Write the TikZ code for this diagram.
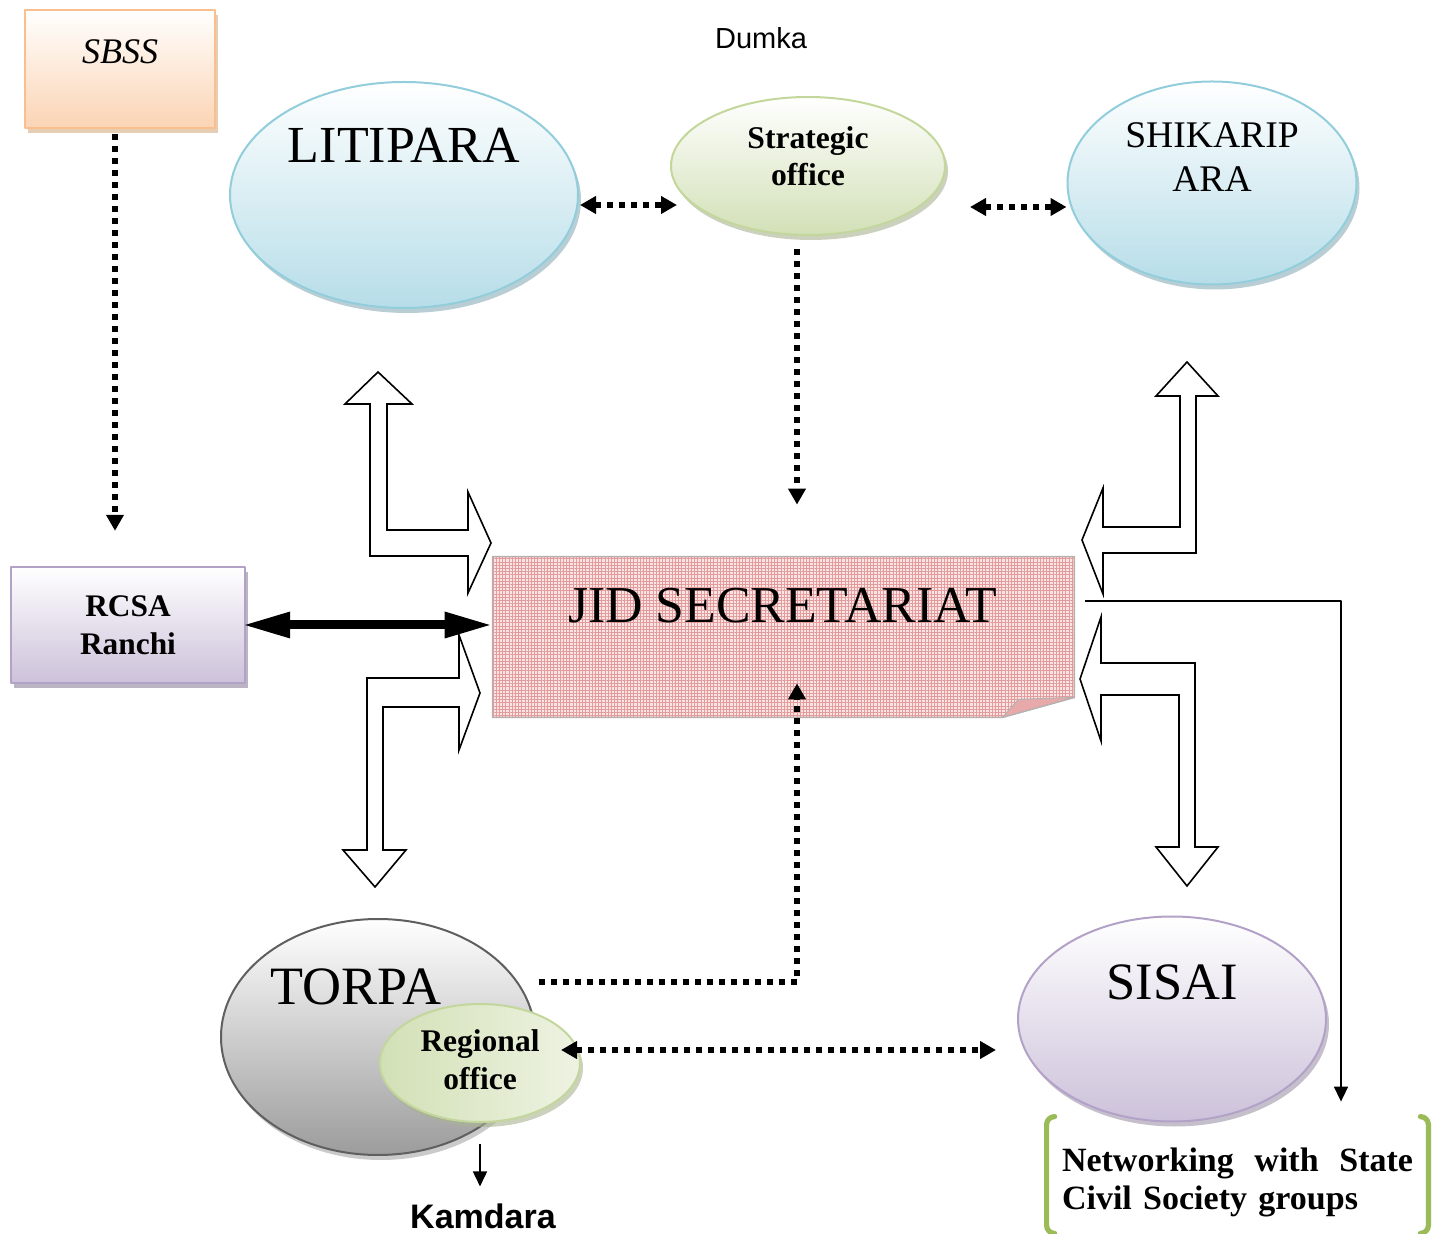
\documentclass[tikz,border=0pt]{standalone}
\usepackage{fontspec}
\setmainfont{Liberation Serif}
\setsansfont{Liberation Sans}
\usetikzlibrary{shapes.geometric,arrows.meta,shadows,patterns.meta,calc}

\definecolor{peach}{HTML}{FBD4B4}
\definecolor{peachline}{HTML}{FABF8F}
\definecolor{skyblue}{HTML}{B6DDE8}
\definecolor{skyline}{HTML}{92CDDC}
\definecolor{sage}{HTML}{D2E0B6}
\definecolor{sagelight}{HTML}{EEF3E2}
\definecolor{sageline}{HTML}{C3D69B}
\definecolor{lilac}{HTML}{CCC1DA}
\definecolor{lilacline}{HTML}{B3A2C7}
\definecolor{slate}{HTML}{9C9C9C}
\definecolor{slateline}{HTML}{5F5F5F}
\definecolor{paper}{HTML}{FBE4E4}
\definecolor{paperline}{HTML}{E39A9A}
\definecolor{leaf}{HTML}{9BBB59}

\tikzset{
  blob/.style={ellipse, line width=1pt, inner sep=0pt, top color=white,
    drop shadow={shadow xshift=1.5pt, shadow yshift=-2.5pt, fill=#1, opacity=.6}},
  card/.style={rectangle, line width=1.2pt, inner sep=0pt, top color=white,
    drop shadow={shadow xshift=1.5pt, shadow yshift=-2.5pt, fill=#1, opacity=.7}},
  dotline/.style={line width=2.8pt, dash pattern=on 3pt off 3pt,
    >={Triangle[length=8pt,width=8.5pt]}},
  fatline/.style={line width=4.5pt, >={Triangle[length=24pt,width=12pt]}},
  thinline/.style={line width=0.8pt, >={Triangle[length=7.5pt,width=7pt]}},
  blockarrow/.style={draw, fill=white, line width=0.8pt, line join=miter},
  jidpaper/.style={draw=gray!60, line width=0.8pt, fill=paper,
    postaction={pattern={Hatch[distance=1.6pt,line width=0.3pt]}, pattern color=paperline}},
  flapfold/.style={fill=paperline!85, draw=gray!60, line width=0.5pt},
  groupbracket/.style={draw=leaf, line width=2.6pt, line cap=round, rounded corners=4pt},
}

\begin{document}
\begin{tikzpicture}[x=0.5pt,y=-0.5pt,>=latex,line join=bevel]
    \useasboundingbox (0,0) rectangle (1435,1234);
    %%
    \node (sbss) [card=brown!55, draw=peachline, bottom color=peach, minimum width=95pt, minimum height=59pt] at (120,69) {};
    \node (litipara) [blob=skyline!60!gray, draw=skyline, bottom color=skyblue, minimum width=174pt, minimum height=113pt] at (404,195) {};
    \node (strategic) [blob=sageline!60!gray, draw=sageline, bottom color=sage, minimum width=137pt, minimum height=69pt] at (808,166) {};
    \node (shikaripara) [blob=skyline!60!gray, draw=skyline, bottom color=skyblue, minimum width=144.5pt, minimum height=101.5pt] at (1212,183) {};
    \node (rcsa) [card=lilacline!60!gray, draw=lilacline, bottom color=lilac, minimum width=117pt, minimum height=58pt] at (128,625) {};
    \node (jid) [minimum width=290.5pt, minimum height=80pt, inner sep=0pt] at (783.5,637) {};
    \node (torpa) [blob=gray!70, draw=slateline, bottom color=slate, minimum width=157pt, minimum height=118pt] at (378,1037) {};
    \node (regional) [blob=sageline!60!gray, draw=sageline, left color=sage, right color=sagelight, minimum width=100pt, minimum height=59pt] at (480,1063) {};
    \node (sisai) [blob=lilacline!60!gray, draw=lilacline, bottom color=lilac, minimum width=154pt, minimum height=102.5pt] at (1172,1019) {};
    \node (network) [minimum width=190.5pt, minimum height=58pt, inner sep=0pt] at (1237.5,1175) {};
    \node (dumka) [anchor=base, font=\sffamily\fontsize{14.5}{17}\selectfont] at (761,49) {Dumka};
    \node (kamdara) [anchor=base, inner sep=2pt, font=\sffamily\bfseries\fontsize{17}{20}\selectfont] at (483,1228) {Kamdara};
    %
    \path[jidpaper] (jid.north west) -- (jid.north east) -- ([yshift=10pt]jid.south east) -- ([xshift=-36pt]jid.south east) -- (jid.south west) -- cycle;
    \filldraw[flapfold] ([xshift=-36pt]jid.south east) -- ([shift={(-28pt,9pt)}]jid.south east) -- ([yshift=10pt]jid.south east) -- cycle;
    %
    \node (sbss-name) [anchor=base, font=\itshape\fontsize{18}{21}\selectfont] at ([yshift=2.5pt]sbss.center) {SBSS};
    \node (litipara-name) [anchor=base, font=\fontsize{26}{31}\selectfont] at ([yshift=16pt]litipara.center) {LITIPARA};
    \node (strategic-name) [align=center, font=\bfseries\fontsize{15.8}{18.5}\selectfont] at ([yshift=5pt]strategic.center) {Strategic\\office};
    \node (shikaripara-name) [align=center, font=\fontsize{18.8}{22}\selectfont] at ([yshift=13pt]shikaripara.center) {SHIKARIP\\ARA};
    \node (rcsa-name) [align=center, font=\bfseries\fontsize{15.7}{19}\selectfont] at (rcsa.center) {RCSA\\Ranchi};
    \node (jid-name) [anchor=base, font=\fontsize{25.9}{31}\selectfont] at ([shift={(-0.5pt,7pt)}]jid.center) {JID SECRETARIAT};
    \node (torpa-name) [anchor=base, font=\fontsize{27}{32}\selectfont] at ([shift={(-11pt,16.5pt)}]torpa.center) {TORPA};
    \node (regional-name) [align=center, font=\bfseries\fontsize{15.75}{19}\selectfont] at ([yshift=1.8pt]regional.center) {Regional\\office};
    \node (sisai-name) [anchor=base, font=\fontsize{26.25}{31}\selectfont] at ([yshift=10pt]sisai.center) {SISAI};
    \node (network-name) [text width=175.5pt, align=left, font=\bfseries\fontsize{17}{19}\selectfont] at ([yshift=-3.5pt]network.center)
      {\hbox to 175.5pt{Networking\hfill with\hfill State}\\Civil Society groups};
    %
    \draw[groupbracket] ([xshift=4pt]network.north west) -- (network.north west) -- (network.south west) -- ([xshift=4pt]network.south west);
    \draw[groupbracket] ([xshift=-4pt]network.north east) -- (network.north east) -- (network.south east) -- ([xshift=-4pt]network.south east);
    %
    \draw[blockarrow] (378,372) -- (412,404) -- (387,404) -- (387,530) -- (468,530) -- (468,492) -- (491,543) -- (468,593) -- (468,556) -- (370,556) -- (370,404) -- (345,404) -- cycle;
    \draw[blockarrow] (480,693) -- (459,750) -- (459,707) -- (383,707) -- (383,850) -- (406,850) -- (375,887) -- (343,850) -- (367,850) -- (367,678) -- (459,678) -- (459,635) -- cycle;
    \draw[blockarrow] (1187,362) -- (1218,396) -- (1196,396) -- (1196,553) -- (1103,553) -- (1103,594) -- (1082,540) -- (1103,488) -- (1103,527) -- (1180,527) -- (1180,396) -- (1156,396) -- cycle;
    \draw[blockarrow] (1080,679) -- (1101,617) -- (1101,663) -- (1195,663) -- (1195,847) -- (1218,847) -- (1187,886) -- (1156,847) -- (1179,847) -- (1179,695) -- (1101,695) -- (1101,741) -- cycle;
    %
    \draw[dotline, ->, shorten <=2.5pt, shorten >=17.5pt] ([xshift=-2.5pt]sbss.south) -- ([xshift=-6.5pt]rcsa.north);
    \draw[dotline, <->, shorten <=0.5pt, shorten >=-3.5pt] ([yshift=-5pt]litipara.east) -- ($(litipara.east -| strategic.west)+(0,10)$);
    \draw[dotline, <->, shorten <=12pt] ($(strategic.east |- shikaripara.west)+(0,24)$) -- ([yshift=-12pt]shikaripara.west);
    \draw[dotline, ->, shorten <=6.5pt, shorten >=26pt] ([xshift=-5.5pt]strategic.south) -- ($(strategic.south |- jid.north)+(-11,0)$);
    \draw[dotline, ->, shorten <=1.5pt, shorten >=-17pt] ([yshift=27.5pt]torpa.east) -| ([xshift=6.75pt]jid.south);
    \draw[dotline, <->, shorten <=-10pt, shorten >=10.5pt] ([yshift=6.5pt]regional.east) -- ($(regional.east -| sisai.west)+(0,-13)$);
    \draw[fatline, <->, shorten <=-2pt] (rcsa.east) -- (rcsa.east -| jid.west);
    \draw[thinline, ->, shorten <=5.5pt, shorten >=7.5pt] ([yshift=18pt]jid.east) -| ($(network.north)+(103.5,0)$);
    \draw[thinline, ->, shorten <=10.5pt, shorten >=6.25pt] (regional.south) -- (regional.south |- kamdara.north);
    %
\end{tikzpicture}
\end{document}
